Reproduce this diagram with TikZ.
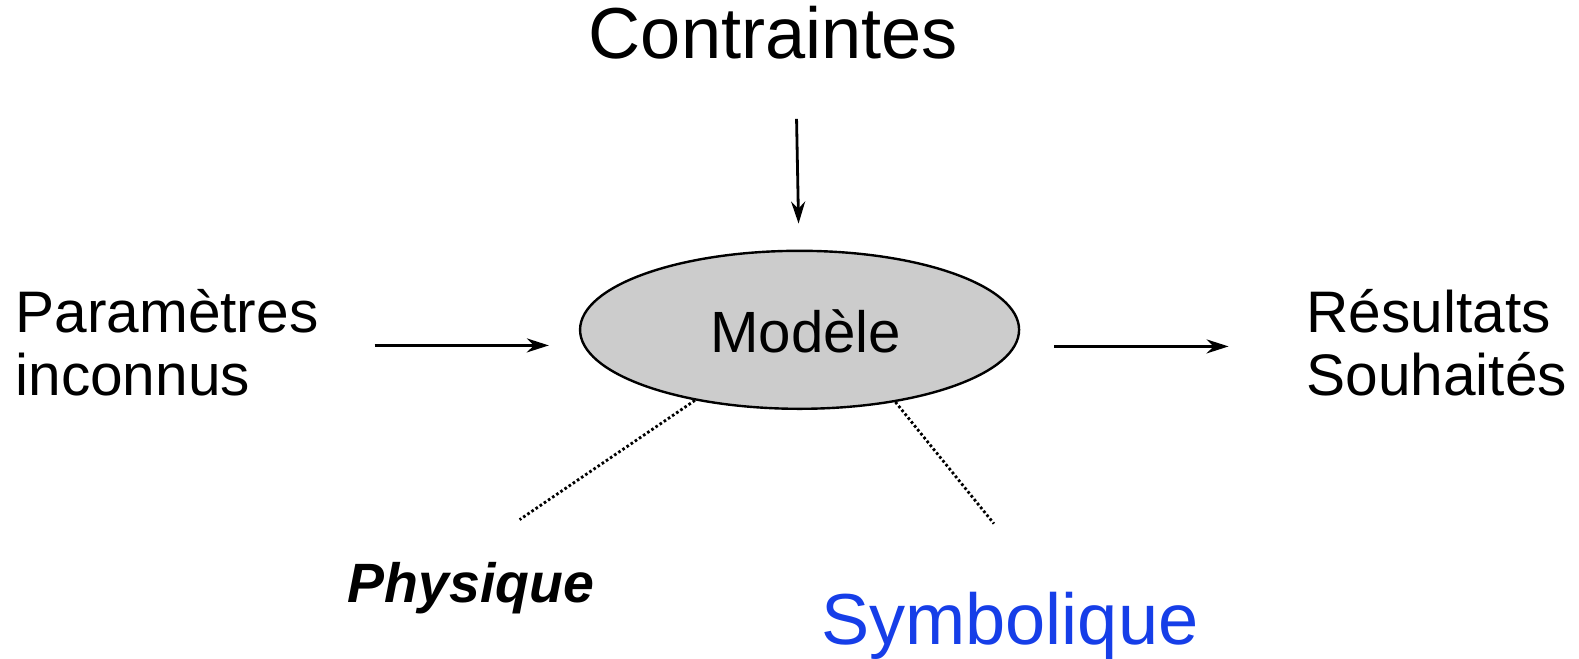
\documentclass[tikz,border=0pt]{standalone}
\usepackage{fontspec}
\setmainfont{Liberation Sans}
\usetikzlibrary{arrows.meta,shapes.geometric}
\definecolor{modelgray}{HTML}{CCCCCC}
\definecolor{symblue}{RGB}{22,62,232}
\tikzset{
  lbl/.style={inner sep=0pt, anchor=base west},
  flow/.style={line width=1.4pt, -{Stealth[length=11pt,width=7pt]}},
  link/.style={line width=1.4pt, dash pattern=on 1.3pt off 1.2pt},
}
\begin{document}
\begin{tikzpicture}[x=0.5035pt,y=-0.5035pt]
  \useasboundingbox (0,0) rectangle (1568,654.4);
  % central model
  \node[draw, line width=1.2pt, fill=modelgray, ellipse, minimum width=219.5pt, minimum height=79pt, inner sep=0pt] (model) at (794,327.5) {};
  \node[inner sep=0pt, anchor=base, font=\fontsize{29.1}{35}\selectfont] (modeltxt) at (800,350) {Modèle};
  % inputs and outputs
  \node[inner sep=0pt, anchor=base, font=\fontsize{36.1}{43}\selectfont] (contr) at (768,58) {Contraintes};
  \node[lbl, font=\fontsize{29.3}{35}\selectfont] (param1) at (15,330) {Paramètres};
  \node[lbl, font=\fontsize{29.3}{35}\selectfont] (param2) at (15,393) {inconnus};
  \node[lbl, font=\fontsize{29.3}{35}\selectfont] (res1) at (1297,330) {Résultats};
  \node[lbl, font=\fontsize{29.3}{35}\selectfont] (res2) at (1297,393) {Souhaités};
  \node[lbl, font=\fontsize{27.7}{33}\selectfont\bfseries\itshape] (phys) at (345,598) {Physique};
  \node[lbl, font=\fontsize{36.1}{43}\selectfont, text=symblue] (symb) at (815,640) {Symbolique};
  % arrow ends
  \coordinate (inA) at (372,343);
  \coordinate (inB) at (545,343);
  \coordinate (outA) at (1047,344);
  \coordinate (outB) at (1220,344);
  \coordinate (topA) at (791,118);
  \coordinate (topB) at (793,222);
  \coordinate (physEnd) at (516,516);
  \coordinate (symbEnd) at (987,520);
  \draw[flow] (inA) -- (inB);
  \draw[flow] (outA) -- (outB);
  \draw[flow] (topA) -- (topB);
  \draw[link] (model.-146) -- (physEnd);
  \draw[link] (model.-37) -- (symbEnd);
\end{tikzpicture}
\end{document}
